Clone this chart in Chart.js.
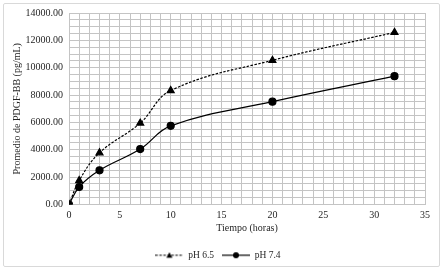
<!DOCTYPE html>
<html>
<head>
<meta charset="utf-8">
<script src="https://cdn.jsdelivr.net/npm/chart.js@4.4.1/dist/chart.umd.min.js"></script>
<style>
    html, body { margin: 0; padding: 0; background: #fff; }
    #wrap { position: relative; width: 443px; height: 270px; }
    #frame { position: absolute; left: 3px; top: 3px; width: 435px; height: 262px; border: 1px solid #d9d9d9; border-radius: 2px; pointer-events: none; }
</style>
</head>
<body>
<div id="wrap">
    <canvas id="chart" width="443" height="270"></canvas>
    <div id="frame"></div>
</div>
<script>
// Values
const hours = [0, 1, 3, 7, 10, 20, 32];
const ph65 = [0, 1750, 3780, 5950, 8330, 10540, 12580];
const ph74 = [0, 1280, 2500, 4050, 5750, 7520, 9380];
const seriesNames = ['pH 6.5', 'pH 7.4'];

const FONT = "'Liberation Serif', 'Times New Roman', serif";
const TEXT = '#262626';
const GRID = '#c4c4c4';

function toPoints(xs, ys) {
    return xs.map((x, i) => ({ x, y: ys[i] }));
}

// small picture (line + marker) used as legend symbol
function legendSymbol(dashed, marker) {
    const c = document.createElement('canvas');
    c.width = 28;
    c.height = 10;
    const g = c.getContext('2d');
    g.strokeStyle = '#000';
    g.fillStyle = '#000';
    g.lineWidth = 1.2;
    g.setLineDash(dashed ? [2.5, 1.5] : []);
    g.beginPath();
    g.moveTo(0, 5);
    g.lineTo(28, 5);
    g.stroke();
    g.beginPath();
    if (marker === 'triangle') {
        g.moveTo(14, 2);
        g.lineTo(17, 7.5);
        g.lineTo(11, 7.5);
        g.closePath();
    } else {
        g.arc(14, 5, 3, 0, Math.PI * 2);
    }
    g.fill();
    return c;
}

const symbols = [legendSymbol(true, 'triangle'), legendSymbol(false, 'circle')];

new Chart(document.getElementById('chart').getContext('2d'), {
    type: 'line',
    data: {
        datasets: [{
            label: seriesNames[0],
            data: toPoints(hours, ph65),
            borderColor: '#000',
            backgroundColor: '#000',
            borderWidth: 1.2,
            borderDash: [2.5, 1.5],
            pointStyle: 'triangle',
            pointRadius: 4,
            tension: 0.4,
            fill: false
        }, {
            label: seriesNames[1],
            data: toPoints(hours, ph74),
            borderColor: '#000',
            backgroundColor: '#000',
            borderWidth: 1.2,
            pointStyle: 'circle',
            pointRadius: 3.5,
            tension: 0.4,
            fill: false
        }]
    },
    options: {
        responsive: false,
        animation: false,
        layout: { padding: { left: 11, right: 18, top: 13, bottom: 0 } },
        scales: {
            x: {
                type: 'linear',
                min: 0,
                max: 35,
                grid: { color: GRID, drawTicks: false },
                border: { color: GRID },
                ticks: {
                    stepSize: 1,
                    autoSkip: false,
                    maxRotation: 0,
                    padding: 5,
                    color: TEXT,
                    font: { family: FONT, size: 10 },
                    callback: v => (v % 5 === 0 ? String(v) : '')
                },
                title: {
                    display: true,
                    text: 'Tiempo (horas)',
                    color: TEXT,
                    font: { family: FONT, size: 10 },
                    padding: { top: 0, bottom: 8 }
                },
                afterFit: s => { s.height = 38; }
            },
            y: {
                min: 0,
                max: 14000,
                grid: { color: GRID, drawTicks: false },
                border: { color: GRID },
                ticks: {
                    stepSize: 500,
                    autoSkip: false,
                    padding: 6,
                    color: TEXT,
                    font: { family: FONT, size: 10 },
                    callback: v => (v % 2000 === 0 ? v.toFixed(2) : '')
                },
                title: {
                    display: true,
                    text: 'Promedio de PDGF-BB (pg/mL)',
                    color: TEXT,
                    font: { family: FONT, size: 10 },
                    padding: { top: 0, bottom: 4 }
                },
                afterFit: s => { s.width = 58; }
            }
        },
        plugins: {
            tooltip: { enabled: false },
            legend: {
                position: 'bottom',
                labels: {
                    usePointStyle: true,
                    pointStyleWidth: 28,
                    padding: 8,
                    color: TEXT,
                    font: { family: FONT, size: 9.5 },
                    generateLabels: chart => chart.data.datasets.map((ds, i) => ({
                        text: ds.label,
                        pointStyle: symbols[i],
                        fillStyle: '#000',
                        strokeStyle: '#000',
                        lineWidth: 0,
                        fontColor: TEXT,
                        hidden: false,
                        datasetIndex: i
                    }))
                }
            }
        }
    }
});
</script>
</body>
</html>
